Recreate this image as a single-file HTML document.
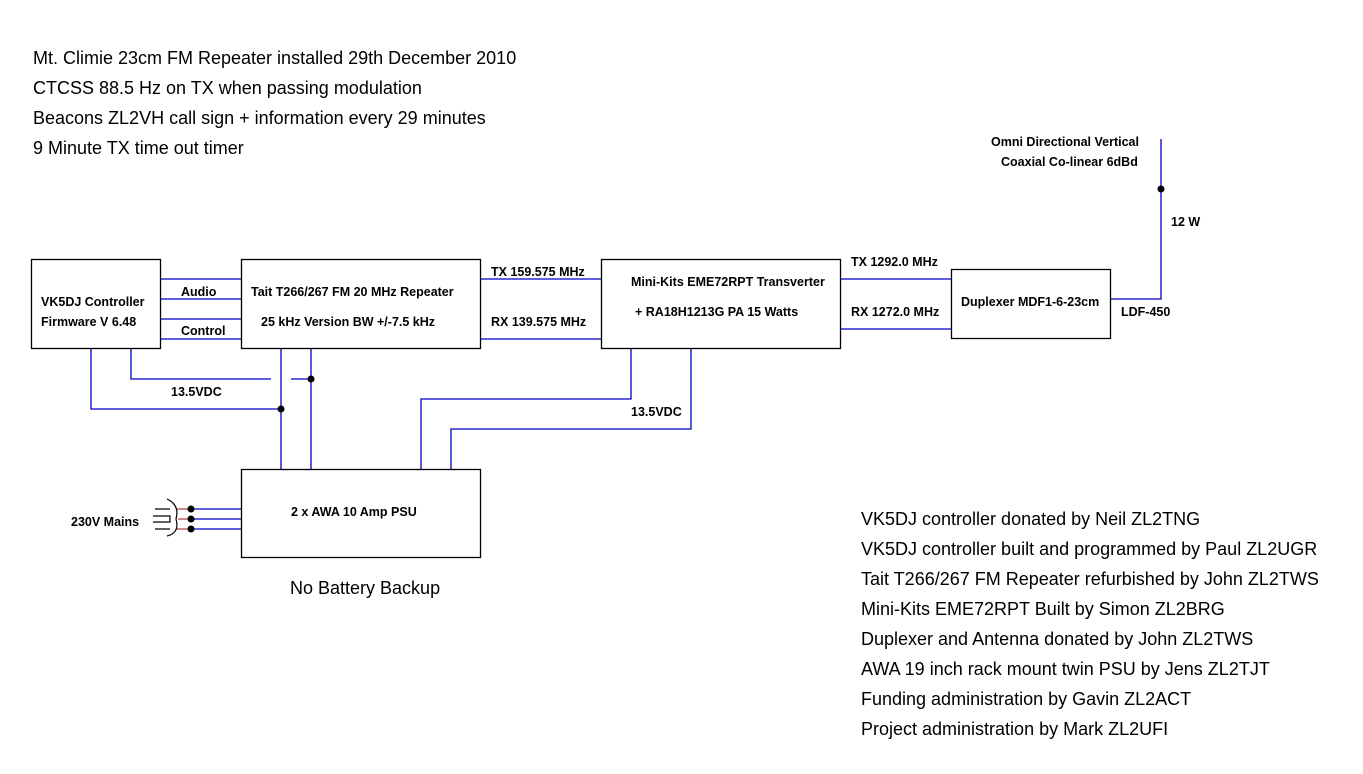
<!DOCTYPE html>
<html><head><style>
body{margin:0;background:#fff;}
svg text{font-family:"Liberation Sans",Arial,sans-serif;}
.b{font-weight:bold;font-size:12.5px;}
.n{font-size:18px;}
</style></head><body>
<svg width="1363" height="769" xmlns="http://www.w3.org/2000/svg">
<g class="n" fill="#000">
<text x="33" y="64">Mt. Climie 23cm FM Repeater installed 29th December 2010</text>
<text x="33" y="94">CTCSS 88.5 Hz on TX when passing modulation</text>
<text x="33" y="124">Beacons ZL2VH call sign + information every 29 minutes</text>
<text x="33" y="154">9 Minute TX time out timer</text>
<text x="290" y="594">No Battery Backup</text>
<text x="861" y="525">VK5DJ controller donated by Neil ZL2TNG</text>
<text x="861" y="555">VK5DJ controller built and programmed by Paul ZL2UGR</text>
<text x="861" y="585">Tait T266/267 FM Repeater refurbished by John ZL2TWS</text>
<text x="861" y="615">Mini-Kits EME72RPT Built by Simon ZL2BRG</text>
<text x="861" y="645">Duplexer and Antenna donated by John ZL2TWS</text>
<text x="861" y="675">AWA 19 inch rack mount twin PSU by Jens ZL2TJT</text>
<text x="861" y="705">Funding administration by Gavin ZL2ACT</text>
<text x="861" y="735">Project administration by Mark ZL2UFI</text>
</g>
<g fill="none" stroke="#0000cc" stroke-width="1.3">
<path d="M160 279H241M160 299H241M160 319H241M160 339H241"/>
<path d="M480 279H601M480 339H601"/>
<path d="M840 279H951M840 329H951"/>
<path d="M1110 299H1161V139"/>
<path d="M91 348V409H281M131 348V379H271M291 379H311"/>
<path d="M281 348V469M311 348V469"/>
<path d="M421 469V399H631V348M451 469V429H691V348"/>
<path d="M191 509H241M191 519H241M191 529H241"/>
</g>
<g fill="none" stroke="#b04040" stroke-width="1.2"><path d="M176 509H191M178 519H191M176 529H191"/></g>
<g fill="none" stroke="#000" stroke-width="1.2">
<path d="M167 499Q180 505 176 519Q180 533 167 536"/>
<path d="M155 509H170M153 516H170V522H153M155 529H170"/>
</g>
<g fill="#000">
<circle cx="191" cy="509" r="3.5"/><circle cx="191" cy="519" r="3.5"/><circle cx="191" cy="529" r="3.5"/>
<circle cx="281" cy="409" r="3.5"/><circle cx="311" cy="379" r="3.5"/><circle cx="1161" cy="189" r="3.5"/>
</g>
<g fill="#fff" stroke="#000" stroke-width="1.3">
<rect x="31.5" y="259.5" width="129" height="89"/>
<rect x="241.5" y="259.5" width="239" height="89"/>
<rect x="601.5" y="259.5" width="239" height="89"/>
<rect x="951.5" y="269.5" width="159" height="69"/>
<rect x="241.5" y="469.5" width="239" height="88"/>
</g>
<g class="b" fill="#000">
<text x="41" y="306">VK5DJ Controller</text>
<text x="41" y="326">Firmware V 6.48</text>
<text x="181" y="296">Audio</text>
<text x="181" y="335">Control</text>
<text x="251" y="296">Tait T266/267 FM 20 MHz Repeater</text>
<text x="261" y="326">25 kHz Version BW +/-7.5 kHz</text>
<text x="491" y="276">TX 159.575 MHz</text>
<text x="491" y="326">RX 139.575 MHz</text>
<text x="631" y="286">Mini-Kits EME72RPT Transverter</text>
<text x="635" y="316">+ RA18H1213G PA 15 Watts</text>
<text x="851" y="266">TX 1292.0 MHz</text>
<text x="851" y="316">RX 1272.0 MHz</text>
<text x="961" y="306">Duplexer MDF1-6-23cm</text>
<text x="1121" y="316">LDF-450</text>
<text x="1171" y="226">12 W</text>
<text x="991" y="146">Omni Directional Vertical</text>
<text x="1001" y="166">Coaxial Co-linear 6dBd</text>
<text x="171" y="396">13.5VDC</text>
<text x="631" y="416">13.5VDC</text>
<text x="71" y="526">230V Mains</text>
<text x="291" y="516">2 x AWA 10 Amp PSU</text>
</g>
</svg>
</body></html>
